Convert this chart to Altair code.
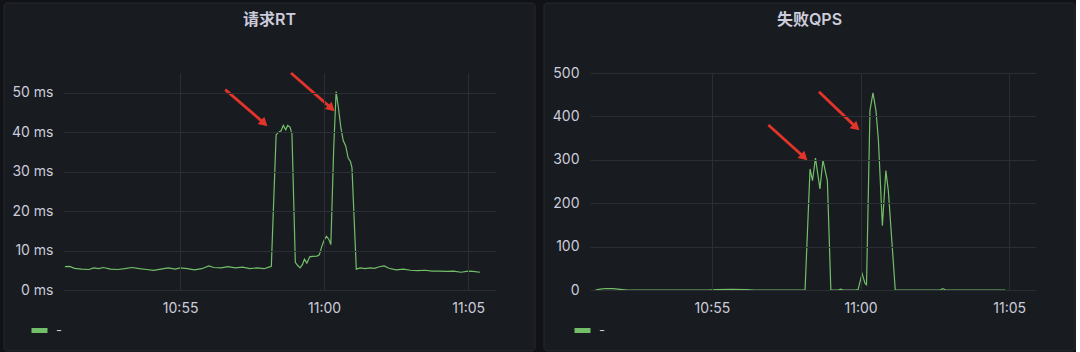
import altair as alt
import pandas as pd

# ---------------- data ----------------
rt_times = [
    "10:51:00", "10:51:10", "10:51:20", "10:51:35", "10:51:50", "10:52:00", "10:52:10", "10:52:20",
    "10:52:35", "10:52:50", "10:53:05", "10:53:20", "10:53:35", "10:53:50", "10:54:05", "10:54:20",
    "10:54:35", "10:54:50", "10:55:00", "10:55:15", "10:55:30", "10:55:45", "10:56:00", "10:56:10",
    "10:56:25", "10:56:40", "10:56:55", "10:57:10", "10:57:25", "10:57:40", "10:57:55", "10:58:05",
    "10:58:10", "10:58:20", "10:58:25", "10:58:30", "10:58:35", "10:58:40", "10:58:44", "10:58:49",
    "10:58:53", "10:59:00", "10:59:05", "10:59:10", "10:59:15", "10:59:19", "10:59:24", "10:59:30",
    "10:59:35", "10:59:45", "10:59:50", "10:59:55", "11:00:00", "11:00:05", "11:00:10", "11:00:14",
    "11:00:20", "11:00:25", "11:00:30", "11:00:35", "11:00:40", "11:00:45", "11:00:50", "11:00:55",
    "11:00:58", "11:01:07", "11:01:15", "11:01:25", "11:01:35", "11:01:45", "11:01:55", "11:02:05",
    "11:02:15", "11:02:30", "11:02:45", "11:03:00", "11:03:15", "11:03:30", "11:03:45", "11:04:00",
    "11:04:15", "11:04:30", "11:04:45", "11:05:00", "11:05:10", "11:05:25",
]
rt_values = [
    5.9, 6.0, 5.5, 5.3, 5.2, 5.6, 5.4, 5.7,
    5.3, 5.2, 5.4, 5.7, 5.4, 5.2, 5.0, 5.3,
    5.6, 5.3, 5.6, 5.4, 5.1, 5.4, 6.1, 5.7,
    5.6, 5.9, 5.6, 5.8, 5.4, 5.6, 5.4, 5.8,
    6.0, 39.3, 40.0, 40.3, 41.7, 40.6, 41.7, 41.3,
    39.5, 7.0, 6.2, 5.6, 6.5, 7.8, 6.8, 8.4,
    8.5, 8.6, 8.9, 11.0, 12.6, 13.6, 12.8, 11.5,
    36.0, 50.3, 46.0, 41.0, 37.8, 36.5, 33.5, 32.5,
    31.0, 5.3, 5.6, 5.4, 5.6, 5.5, 5.9, 6.1,
    5.5, 5.1, 5.3, 5.0, 4.9, 5.0, 4.8, 4.8,
    4.7, 4.8, 4.5, 4.8, 4.7, 4.5,
]

qps_times = [
    "10:51:05", "10:51:15", "10:51:25", "10:51:40", "10:51:55", "10:52:10", "10:53:00", "10:54:00",
    "10:54:50", "10:55:10", "10:55:40", "10:56:10", "10:56:25", "10:57:00", "10:58:00", "10:58:08",
    "10:58:18", "10:58:23", "10:58:29", "10:58:38", "10:58:44", "10:58:53", "10:59:00", "10:59:15",
    "10:59:20", "10:59:25", "10:59:50", "10:59:55", "11:00:03", "11:00:09", "11:00:12", "11:00:19",
    "11:00:25", "11:00:31", "11:00:36", "11:00:44", "11:00:51", "11:00:56", "11:01:10", "11:02:00",
    "11:02:40", "11:02:46", "11:02:52", "11:04:00", "11:04:52",
]
qps_values = [
    0, 2, 3.5, 3, 1.5, 0, 0, 0,
    0, 1, 1.5, 1, 0, 0, 0, 0,
    279, 252, 304, 233, 299, 252, 0, 0,
    2, 0, 0, 1, 38, 15, 12, 414,
    454, 414, 345, 148, 275, 229, 0, 0,
    0, 3, 0, 0, 0,
]

series_name = "-"
x_tick_labels = ["10:55:00", "11:00:00", "11:05:00"]
rt_y_ticks = [0, 10, 20, 30, 40, 50]
qps_y_ticks = [0, 100, 200, 300, 400, 500]

# annotation arrows (start time, start value, end time, end value)
rt_arrow_t0 = ["10:56:34", "10:58:51"]
rt_arrow_v0 = [50.8, 55.0]
rt_arrow_t1 = ["10:57:53", "11:00:13"]
rt_arrow_v1 = [42.5, 46.3]
qps_arrow_t0 = ["10:56:54", "10:58:36"]
qps_arrow_v0 = [380, 457]
qps_arrow_t1 = ["10:58:04", "10:59:49"]
qps_arrow_v1 = [308, 377]

# ---------------- style ----------------
FONT = "Inter, Noto Sans CJK SC, sans-serif"
PAGE_BG = "#111217"
PANEL_BG = "#181b1f"
PANEL_BORDER = "#26282d"
GRID = "#2b2e33"
TEXT = "#ccccdc"
GREEN = "#73bf69"
RED = "#e3342b"
H = 217


def iso(t):
    return "2024-01-01T" + t


def dt(t):
    h, m, s = (int(p) for p in t.split(":"))
    return alt.DateTime(year=2024, month=1, date=1, hours=h, minutes=m, seconds=s)


def panel(title, times, values, y_ticks, y_max, label_expr, x_start, x_end, width,
          a_t0, a_v0, a_t1, a_v1, rect_left, rect_right, legend_x, y_pad):
    df = pd.DataFrame({"time": [iso(t) for t in times], "value": values, "series": series_name})
    arrows = pd.DataFrame({
        "t0": [iso(t) for t in a_t0], "v0": a_v0,
        "t1": [iso(t) for t in a_t1], "v1": a_v1,
    })

    x_enc = alt.X(
        "time:T",
        scale=alt.Scale(domain=[dt(x_start), dt(x_end)]),
        axis=alt.Axis(
            values=[dt(t) for t in x_tick_labels], format="%H:%M", title=None,
            grid=True, gridColor=GRID, domain=False, ticks=False,
            labelColor=TEXT, labelFontSize=14, labelFont=FONT, labelPadding=11,
            labelFlush=False, zindex=1,
        ),
    )
    y_axis = dict(
        values=y_ticks, title=None, grid=True, gridColor=GRID, domain=False, ticks=False,
        labelColor=TEXT, labelFontSize=14, labelFont=FONT, labelPadding=y_pad, zindex=1,
    )
    if label_expr:
        y_axis["labelExpr"] = label_expr
    y_enc = alt.Y("value:Q", scale=alt.Scale(domain=[0, y_max], nice=False), axis=alt.Axis(**y_axis))

    bg = alt.Chart(alt.Data(values=[{}])).mark_rect(
        fill=PANEL_BG, stroke=PANEL_BORDER, strokeWidth=1, cornerRadius=3
    ).encode(
        x=alt.value(rect_left), x2=alt.value(width + rect_right),
        y=alt.value(-70), y2=alt.value(H + 61),
    )

    line = alt.Chart(df).mark_line(strokeWidth=1.2, interpolate="linear").encode(
        x=x_enc,
        y=y_enc,
        color=alt.Color(
            "series:N",
            scale=alt.Scale(range=[GREEN]),
            legend=alt.Legend(
                title=None, orient="none", legendX=legend_x, legendY=247,
                symbolType="stroke", symbolStrokeWidth=5, symbolSize=256,
                labelColor=TEXT, labelFontSize=13, labelFont=FONT, labelOffset=6, padding=0,
            ),
        ),
    )

    shaft = alt.Chart(arrows).mark_rule(color=RED, strokeWidth=2.8).encode(
        x="t0:T", y="v0:Q", x2="t1:T", y2="v1:Q"
    )
    head = alt.Chart(arrows).mark_point(
        shape="triangle", filled=True, color=RED, size=100, angle=132, opacity=1
    ).encode(x="t1:T", y="v1:Q")

    return alt.layer(bg, line, shaft, head).properties(
        width=width,
        height=H,
        title=alt.TitleParams(
            text=title, frame="bounds", anchor="middle", baseline="middle",
            offset=-33, color=TEXT, fontSize=16, fontWeight=600, font=FONT,
        ),
    )


left = panel("请求RT", rt_times, rt_values, rt_y_ticks, 55, "datum.value + ' ms'",
             "10:50:56", "11:05:56", 432,
             rt_arrow_t0, rt_arrow_v0, rt_arrow_t1, rt_arrow_v1,
             -59, 40, -34, 10)
right = panel("失败QPS", qps_times, qps_values, qps_y_ticks, 500, "",
              "10:50:54", "11:05:54", 446,
              qps_arrow_t0, qps_arrow_v0, qps_arrow_t1, qps_arrow_v1,
              -46, 39, -18, 11)

chart = alt.hconcat(left, right, spacing=7).resolve_scale(
    color="independent"
).resolve_legend(color="independent").properties(
    padding={"left": 3, "top": 2, "right": 0, "bottom": 0},
    background=PAGE_BG,
).configure_view(stroke=None)

chart.save("out.html", embed_options={"renderer": "svg", "actions": False})
